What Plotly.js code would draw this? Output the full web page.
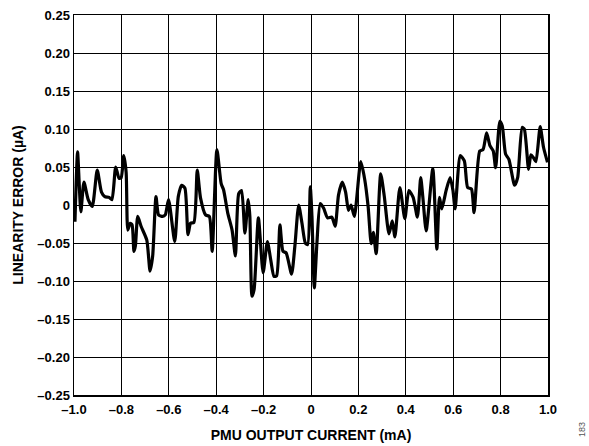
<!DOCTYPE html>
<html>
<head>
<meta charset="utf-8">
<script src="https://cdn.plot.ly/plotly-3.0.1.min.js"></script>
<style>html,body{margin:0;padding:0;background:#fff;}#chart{width:589px;height:446px;}</style>
</head>
<body>
<div id="chart"></div>
<script>
// PMU output current (mA)
const currentMA = [
  -0.996,-0.985,-0.978,-0.971,-0.958,-0.940,-0.923,-0.902,-0.884,-0.870,-0.852,-0.840,
  -0.824,-0.810,-0.801,-0.790,-0.780,-0.773,-0.763,-0.755,-0.747,-0.741,-0.731,-0.717,
  -0.693,-0.679,-0.668,-0.654,-0.643,-0.626,-0.615,-0.601,-0.575,-0.560,-0.546,-0.532,
  -0.519,-0.508,-0.494,-0.480,-0.466,-0.445,-0.429,-0.417,
  -0.397,-0.379,-0.369,-0.351,-0.333,-0.319,-0.305,-0.293,-0.279,-0.265,-0.258,-0.249,
  -0.240,-0.222,-0.202,-0.184,-0.170,-0.156,-0.145,-0.131,-0.118,-0.105,-0.082,-0.068,
  -0.052,-0.038,-0.024,-0.014,-0.003,0.004,0.014,0.025,0.039,0.053,0.070,0.088,0.102,
  0.116,0.132,0.146,0.158,0.169,0.183,0.210,0.227,0.241,
  0.254,0.263,0.275,0.294,0.309,0.329,0.343,0.354,0.375,0.396,0.413,0.431,0.449,0.463,
  0.472,0.486,0.514,0.531,0.542,0.552,0.570,0.587,0.599,0.608,0.630,0.647,0.661,0.677,
  0.688,0.712,0.726,0.741,0.755,0.769,0.779,0.797,0.807,0.821,0.835,0.859,0.872,0.891,
  0.900,0.918,0.928,0.939,0.949,0.967,0.981,0.998
];
// Linearity error (µA)
const errorUA = [
  -0.022,0.070,0.028,-0.009,0.030,0.007,-0.002,0.046,0.017,0.011,0.010,0.007,
  0.050,0.035,0.036,0.065,0.043,-0.033,-0.024,-0.026,-0.061,-0.054,-0.015,-0.028,
  -0.046,-0.087,-0.067,0.011,-0.013,-0.015,-0.013,0.007,-0.048,0.011,0.026,0.022,
  -0.039,-0.024,-0.023,0.046,0.009,-0.013,-0.015,-0.061,
  0.073,0.028,0.020,-0.011,-0.033,-0.067,0.015,0.019,-0.037,0.007,-0.015,-0.120,
  -0.111,-0.017,-0.089,-0.048,-0.072,-0.094,-0.093,-0.026,-0.061,-0.063,-0.091,-0.054,
  0.000,-0.024,-0.050,-0.052,0.024,-0.015,-0.109,-0.050,0.002,-0.004,-0.017,-0.016,-0.028,
  0.013,0.030,0.017,-0.007,0.000,-0.015,0.057,0.033,-0.002,
  -0.051,-0.036,-0.064,0.041,0.012,-0.038,-0.021,-0.042,0.023,-0.018,0.019,0.010,-0.016,0.036,
  0.010,-0.034,0.048,-0.058,0.010,-0.005,0.019,0.036,0.019,-0.005,0.065,0.058,0.023,0.021,
  -0.010,0.071,0.073,0.095,0.078,0.071,0.049,0.110,0.104,0.067,0.060,0.026,0.036,0.102,
  0.100,0.047,0.066,0.062,0.057,0.103,0.076,0.056
];
const xTickVals = [-1.0,-0.8,-0.6,-0.4,-0.2,0,0.2,0.4,0.6,0.8,1.0];
const xTickText = ['\u20131.0','\u20130.8','\u20130.6','\u20130.4','\u20130.2','0','0.2','0.4','0.6','0.8','1.0'];
const yTickVals = [0.25,0.20,0.15,0.10,0.05,0,-0.05,-0.10,-0.15,-0.20,-0.25];
const yTickText = ['0.25','0.20','0.15','0.10','0.05','0','\u20130.05','\u20130.10','\u20130.15','\u20130.20','\u20130.25'];

const fam = 'Liberation Sans, Arial, sans-serif';
const trace = {
  x: currentMA, y: errorUA, type: 'scatter', mode: 'lines',
  line: {color: '#000', width: 3.2, shape: 'spline', smoothing: 0.6},
  hoverinfo: 'skip'
};
const layout = {
  width: 589, height: 446,
  margin: {l: 74, r: 41, t: 15, b: 51},
  paper_bgcolor: '#fff', plot_bgcolor: '#fff',
  showlegend: false,
  font: {family: fam, size: 12, color: '#000'},
  xaxis: {
    range: [-1, 1], tickmode: 'array', tickvals: xTickVals, ticktext: xTickText,
    showgrid: true, gridcolor: '#000', gridwidth: 1,
    showline: true, linecolor: '#000', linewidth: 1.5, mirror: true,
    zeroline: false, ticks: 'outside', ticklen: 2, tickcolor: 'rgba(0,0,0,0)',
    tickfont: {family: fam, size: 13, color: '#000', weight: 'bold'},
    title: {text: '<b>PMU OUTPUT CURRENT (mA)</b>', standoff: 14,
            font: {family: fam, size: 14, color: '#000'}}
  },
  yaxis: {
    range: [-0.25, 0.25], tickmode: 'array', tickvals: yTickVals, ticktext: yTickText,
    showgrid: true, gridcolor: '#000', gridwidth: 1,
    showline: true, linecolor: '#000', linewidth: 1.5, mirror: true,
    zeroline: false, ticks: '', ticklen: 0,
    tickfont: {family: fam, size: 13, color: '#000', weight: 'bold'},
    title: {text: '<b>LINEARITY ERROR (µA)</b>', standoff: 10,
            font: {family: fam, size: 14, color: '#000'}}
  },
  annotations: [{
    text: '183', xref: 'paper', yref: 'paper', x: 1.072, y: -0.092,
    xanchor: 'center', yanchor: 'middle', showarrow: false, textangle: -90,
    font: {family: fam, size: 9, color: '#555'}
  }]
};
Plotly.newPlot('chart', [trace], layout, {staticPlot: true, displayModeBar: false});
</script>
</body>
</html>
